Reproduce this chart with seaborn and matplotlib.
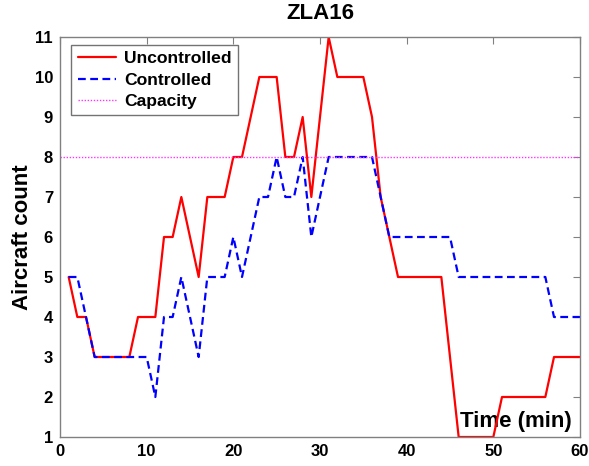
import numpy as np
import pandas as pd
import matplotlib
matplotlib.use("Agg")
import matplotlib.pyplot as plt
import seaborn as sns

# =========================
# Data
# =========================
time_min = list(range(1, 61))

uncontrolled = [5, 4, 4, 3, 3, 3, 3, 3, 4, 4,
                4, 6, 6, 7, 6, 5, 7, 7, 7, 8,
                8, 9, 10, 10, 10, 8, 8, 9, 7, 9,
                11, 10, 10, 10, 10, 9, 7, 6, 5, 5,
                5, 5, 5, 5, 3, 1, 1, 1, 1, 1,
                2, 2, 2, 2, 2, 2, 3, 3, 3, 3]

controlled = [5, 5, 4, 3, 3, 3, 3, 3, 3, 3,
              2, 4, 4, 5, 4, 3, 5, 5, 5, 6,
              5, 6, 7, 7, 8, 7, 7, 8, 6, 7,
              8, 8, 8, 8, 8, 8, 7, 6, 6, 6,
              6, 6, 6, 6, 6, 5, 5, 5, 5, 5,
              5, 5, 5, 5, 5, 5, 4, 4, 4, 4]

capacity = 8
sector = "ZLA16"

x_ticks = [0, 10, 20, 30, 40, 50, 60]
y_ticks = list(range(1, 12))

df = pd.DataFrame({"time": time_min,
                   "Uncontrolled": uncontrolled,
                   "Controlled": controlled})

# =========================
# Plot
# =========================
sns.set_style("white")
plt.rcParams["font.family"] = ["Liberation Sans", "DejaVu Sans"]
plt.rcParams["font.weight"] = "bold"
plt.rcParams["text.color"] = "black"
plt.rcParams["axes.labelcolor"] = "black"
plt.rcParams["xtick.labelcolor"] = "black"
plt.rcParams["ytick.labelcolor"] = "black"

fig = plt.figure(figsize=(5.89, 4.66), dpi=100)
ax = fig.add_axes([60 / 589, 1 - 437 / 466, 520 / 589, 400 / 466])

sns.lineplot(data=df, x="time", y="Uncontrolled", ax=ax, color="#ff0000",
             linewidth=1.6, label="Uncontrolled")
sns.lineplot(data=df, x="time", y="Controlled", ax=ax, color="#0000ff",
             linewidth=1.6, linestyle=(0, (3.5, 2)), label="Controlled")
ax.axhline(capacity, color="#ff33ff", linewidth=1.0, linestyle=(0, (1, 1.2)),
           label="Capacity")

ax.set_xlim(0, 60)
ax.set_ylim(1, 11)
ax.set_xticks(x_ticks)
ax.set_yticks(y_ticks)
ax.tick_params(direction="in", length=5, width=0.8, color="#808080",
               top=True, right=True, labelsize=12, pad=5)
for lab in ax.get_xticklabels() + ax.get_yticklabels():
    lab.set_fontweight("bold")
for sp in ax.spines.values():
    sp.set_color("#808080")
    sp.set_linewidth(1.0)

ax.set_title(sector, fontsize=16, fontweight="bold", pad=13, color="black")
ax.set_ylabel("Aircraft count", fontsize=16, fontweight="bold", labelpad=1)
ax.set_xlabel("Time (min)", fontsize=16, fontweight="bold", ha="right", va="bottom")
ax.xaxis.set_label_coords(0.985, 0.012)

leg = ax.legend(loc="upper left", bbox_to_anchor=(0.022, 0.98), fontsize=12.6,
                frameon=True, fancybox=False, handlelength=2.2,
                labelspacing=0.35, borderpad=0.35, handletextpad=0.45,
                borderaxespad=0)
leg.get_frame().set_edgecolor("#505050")
leg.get_frame().set_linewidth(1.0)
for t in leg.get_texts():
    t.set_fontweight("bold")
    t.set_color("black")

fig.savefig("out.png", dpi=100)
